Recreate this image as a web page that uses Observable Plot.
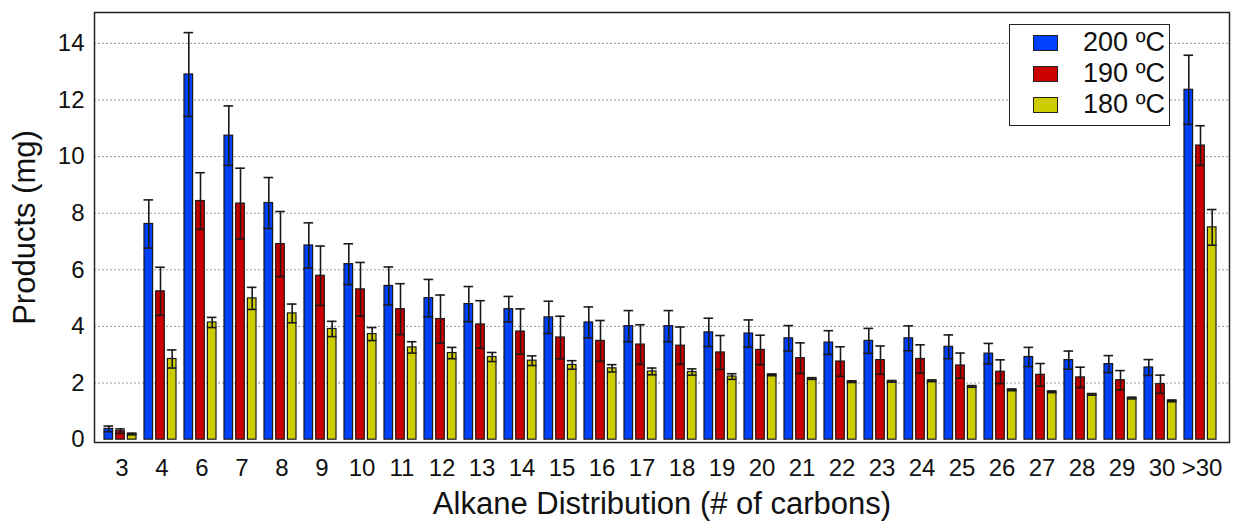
<!DOCTYPE html>
<html>
<head>
<meta charset="utf-8">
<script src="https://cdn.jsdelivr.net/npm/d3@7"></script>
<script src="https://cdn.jsdelivr.net/npm/@observablehq/plot@0.6"></script>
<style>
  html, body { margin: 0; padding: 0; background: #fff; }
  #wrap { position: relative; width: 1236px; height: 521px; font-family: "Liberation Sans", Arial, sans-serif; }
  #legend { position: absolute; left: 1009px; top: 24px; width: 159px; height: 100px; border: 1.5px solid #222; background: #fff; }
  .row { position: absolute; left: 0; right: 0; height: 30px; }
  .sw { position: absolute; left: 23px; width: 23px; height: 14px; border: 1.2px solid #222; }
  .lt { position: absolute; right: 4px; font-size: 27px; line-height: 30px; color: #111; }
</style>
</head>
<body>
<div id="wrap"></div>
<script>
const categories = ["3","4","6","7","8","9","10","11","12","13","14","15","16","17","18","19","20","21","22","23","24","25","26","27","28","29","30",">30"];
const seriesNames = ["200 ºC", "190 ºC", "180 ºC"];
const seriesColors = ["#0040ff", "#cc0000", "#cccc00"];

const v200 = [0.38, 7.62, 12.9, 10.74, 8.36, 6.86, 6.2, 5.43, 5.0, 4.79, 4.61, 4.32, 4.14, 4.01, 4.01, 3.79, 3.75, 3.58, 3.43, 3.49, 3.58, 3.28, 3.04, 2.92, 2.81, 2.67, 2.55, 12.36];
const e200 = [0.1, 0.85, 1.48, 1.05, 0.9, 0.8, 0.72, 0.67, 0.66, 0.62, 0.45, 0.57, 0.55, 0.55, 0.55, 0.5, 0.48, 0.45, 0.42, 0.44, 0.44, 0.42, 0.36, 0.34, 0.32, 0.3, 0.28, 1.22];
const v190 = [0.3, 5.24, 8.43, 8.34, 6.91, 5.79, 5.31, 4.61, 4.26, 4.07, 3.82, 3.61, 3.49, 3.36, 3.32, 3.08, 3.17, 2.88, 2.76, 2.81, 2.85, 2.62, 2.4, 2.29, 2.2, 2.1, 1.96, 10.39];
const e190 = [0.08, 0.85, 1.0, 1.25, 1.15, 1.05, 0.95, 0.9, 0.85, 0.84, 0.8, 0.75, 0.72, 0.7, 0.66, 0.6, 0.52, 0.54, 0.52, 0.5, 0.5, 0.44, 0.42, 0.4, 0.36, 0.34, 0.32, 0.7];
const v180 = [0.2, 2.85, 4.14, 4.99, 4.46, 3.91, 3.73, 3.26, 3.06, 2.92, 2.79, 2.64, 2.52, 2.41, 2.39, 2.23, 2.29, 2.16, 2.05, 2.06, 2.08, 1.88, 1.76, 1.69, 1.6, 1.47, 1.37, 7.5];
const e180 = [0.03, 0.32, 0.18, 0.39, 0.33, 0.27, 0.23, 0.2, 0.2, 0.16, 0.17, 0.15, 0.13, 0.12, 0.11, 0.1, 0.03, 0.03, 0.03, 0.03, 0.03, 0.03, 0.03, 0.03, 0.03, 0.03, 0.03, 0.63];
const yTicks = [0, 2, 4, 6, 8, 10, 12, 14];

const values = [v200, v190, v180];
const errors = [e200, e190, e180];

const paddingInner = 0.13, paddingOuter = 0.136;
const plotW = 1236 - 94 - 7;
const step = plotW / (categories.length - paddingInner + 2 * paddingOuter);
const band = step * (1 - paddingInner);
const sub = band / 3;
const barGap = 3;

const marks = [
  Plot.gridY(yTicks.filter(d => d > 0), {stroke: "#999", strokeOpacity: 1, strokeDasharray: "2,2", strokeWidth: 1})
];
values.forEach((vals, s) => {
  const data = categories.map((c, i) => ({c, v: vals[i], e: errors[s][i]}));
  const il = s * sub, ir = (2 - s) * sub + barGap;
  const off = (s - 1) * sub - barGap / 2;
  marks.push(Plot.barY(data, {x: "c", y: "v", fill: seriesColors[s], stroke: "#1a1a1a", strokeWidth: 1.2, insetLeft: il, insetRight: ir}));
  marks.push(Plot.ruleX(data, {x: "c", y1: d => d.v - d.e, y2: d => d.v + d.e, dx: off, stroke: "#1a1a1a", strokeWidth: 1.6}));
  marks.push(Plot.tickY(data, {x: "c", y: d => d.v + d.e, insetLeft: il - 0.5, insetRight: ir - 0.5, stroke: "#1a1a1a", strokeWidth: 1.6}));
  marks.push(Plot.tickY(data, {x: "c", y: d => d.v - d.e, insetLeft: il - 0.5, insetRight: ir - 0.5, stroke: "#1a1a1a", strokeWidth: 1.6}));
});
marks.push(Plot.frame({stroke: "#222", strokeWidth: 1.5}));
marks.push(Plot.axisY({ticks: yTicks, tickSize: 0, tickPadding: 10, fontSize: 24, label: "Products (mg)", labelAnchor: "center", labelArrow: "none", labelOffset: 82}));
marks.push(Plot.axisX({tickSize: 0, tickPadding: 16, fontSize: 24, label: "Alkane Distribution (# of carbons)", labelAnchor: "center", labelArrow: "none", labelOffset: 71}));

const chart = Plot.plot({
  width: 1236,
  height: 521,
  marginLeft: 94,
  marginRight: 7,
  marginTop: 12,
  marginBottom: 79,
  style: {fontFamily: "'Liberation Sans', Arial, sans-serif", color: "#111", background: "#fff"},
  x: {domain: categories, paddingInner, paddingOuter},
  y: {domain: [-0.1, 15.09]},
  marks
});
const wrap = document.getElementById("wrap");
wrap.appendChild(chart);
chart.querySelectorAll("g[aria-label='y-axis label'] text, g[aria-label='x-axis label'] text").forEach(t => t.setAttribute("font-size", "31"));

const legend = document.createElement("div");
legend.id = "legend";
seriesNames.forEach((n, i) => {
  const row = document.createElement("div");
  row.className = "row";
  row.style.top = (2 + i * 31) + "px";
  const sw = document.createElement("div");
  sw.className = "sw";
  sw.style.top = "8px";
  sw.style.background = seriesColors[i];
  const t = document.createElement("div");
  t.className = "lt";
  t.textContent = n;
  row.appendChild(sw); row.appendChild(t);
  legend.appendChild(row);
});
wrap.appendChild(legend);
</script>
</body>
</html>
